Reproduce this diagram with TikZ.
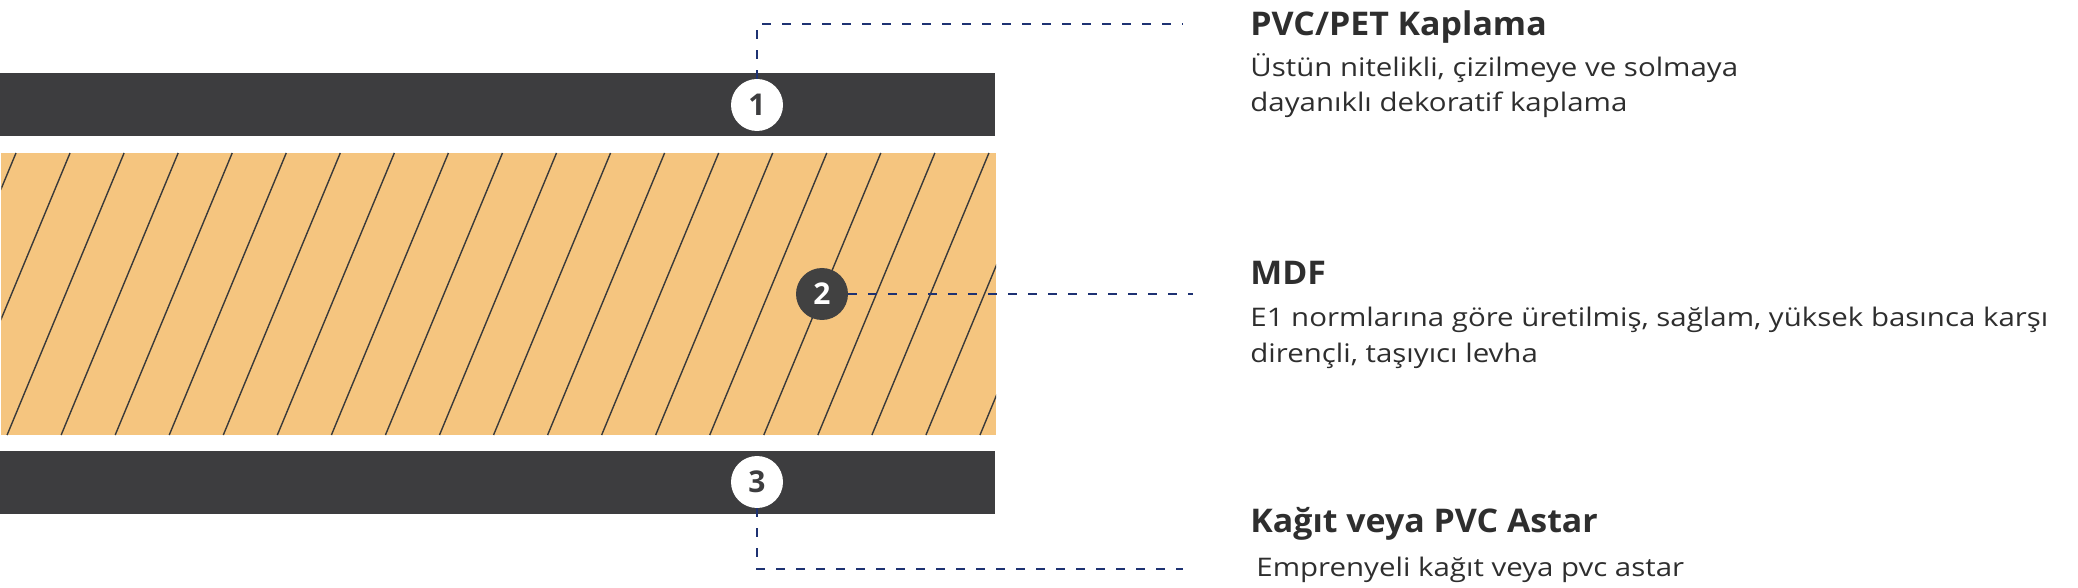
\documentclass[tikz,border=0pt]{standalone}
\usepackage{fontspec}
\setmainfont{Open Sans}
\newfontfamily\bodyfont{Open Sans}[FakeStretch=1.15]
\newfontfamily\titlefont{Open Sans}[FakeStretch=1.04]
\definecolor{barc}{HTML}{3D3D3F}
\definecolor{woodc}{HTML}{F5C57F}
\definecolor{hatchc}{HTML}{3A3A3A}
\definecolor{navyc}{HTML}{1E3272}
\definecolor{txtc}{HTML}{2E2E2E}
\definecolor{darkcirc}{HTML}{414141}
\tikzset{
  numbase/.style={circle, inner sep=0pt, minimum size=26pt, font=\bfseries\fontsize{15}{15}\selectfont},
  numw/.style={numbase, fill=white, text=barc},
  numd/.style={numbase, fill=darkcirc, text=white},
  titletext/.style={anchor=base west, inner sep=0pt, text=txtc, font=\titlefont\bfseries\fontsize{16.3}{18}\selectfont},
  bodytext/.style={anchor=base west, inner sep=0pt, text=txtc, font=\bodyfont\fontsize{12.8}{14}\selectfont},
  leader/.style={draw=navyc, line width=1pt, dash pattern=on 4.5pt off 5.5pt},
  hatchline/.style={draw=hatchc, line width=0.7pt}
}
\begin{document}
\begin{tikzpicture}[x=0.5pt,y=-0.5pt]
\useasboundingbox (0,0) rectangle (2078,588);
% layers
\fill[barc] (0,73) rectangle (995,136);
\fill[woodc] (1.3,153) rectangle (996,435);
\begin{scope}
  \clip (1.3,153) rectangle (996,435);
  \foreach \k in {-3,...,21} \draw[hatchline] ({16+54.05*\k},153) -- ({16+54.05*\k-117},435);
\end{scope}
\fill[barc] (0,451) rectangle (995,514);
% markers
\node[numw] (c1) at (757,105) {1};
\node[numd] (c2) at (822,294) {2};
\node[numw] (c3) at (757,482) {3};
% leader ends
\coordinate (e1) at (1183,24);
\coordinate (e2) at (1193,294);
\coordinate (e3) at (1183,569);
\draw[leader] (c1.north) |- (e1);
\draw[leader] (c2.east) -- (e2);
\draw[leader] (c3.south) |- (e3);
% texts
\node[titletext] (t1) at (1250,36) {PVC/PET Kaplama};
\node[bodytext] (b1a) at (1250,77) {Üstün nitelikli, çizilmeye ve solmaya};
\node[bodytext] (b1b) at (1250,112) {dayanıklı dekoratif kaplama};
\node[titletext] (t2) at (1250,285) {MDF};
\node[bodytext] (b2a) at (1250,327) {E1 normlarına göre üretilmiş, sağlam, yüksek basınca karşı};
\node[bodytext] (b2b) at (1250,363) {dirençli, taşıyıcı levha};
\node[titletext] (t3) at (1250,532) {Kağıt veya PVC Astar};
\node[bodytext] (b3) at (1256,576) {Emprenyeli kağıt veya pvc astar};
\end{tikzpicture}
\end{document}
